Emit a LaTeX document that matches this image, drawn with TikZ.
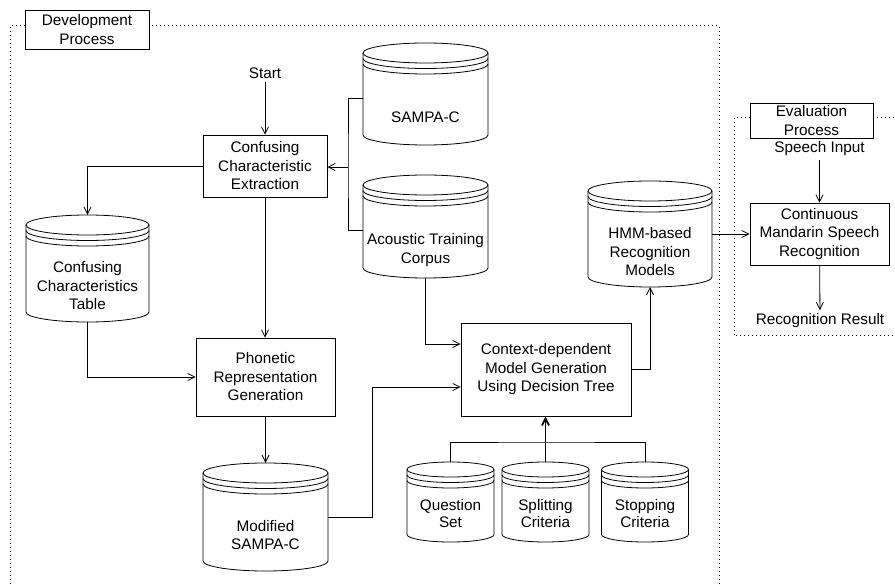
\documentclass[tikz,border=0pt]{standalone}
\usepackage{fontspec}
\setmainfont{Liberation Sans}
\usetikzlibrary{arrows.meta}

% Database drum: #1 name, #2 centre x, #3 top y, #4 width, #5 height,
% #6 cap radius, #7 label position, #8 label
\newcommand{\dbdrum}[8]{%
  \pgfmathsetmacro\dbrx{#4/2}%
  \pgfmathsetmacro\dbL{#2-#4/2}%
  \pgfmathsetmacro\dbR{#2+#4/2}%
  \pgfmathsetmacro\dbA{#3+#6}%
  \pgfmathsetmacro\dbB{#3+#5-#6}%
  \draw (#2,\dbA) ellipse [x radius=\dbrx pt, y radius=#6pt];
  \draw (\dbL,\dbA+5.5) arc [start angle=180, end angle=360, x radius=\dbrx pt, y radius=#6pt];
  \draw (\dbL,\dbA+11) arc [start angle=180, end angle=360, x radius=\dbrx pt, y radius=#6pt];
  \draw (\dbL,\dbA) -- (\dbL,\dbB)
        arc [start angle=180, end angle=360, x radius=\dbrx pt, y radius=#6pt]
        -- (\dbR,\dbA);
  \node[inner sep=0pt, outer sep=0pt, minimum width=#4pt, minimum height=#5pt]
        (#1) at (#2,#3+#5/2) {};
  \node at (#7) {#8};
}

\begin{document}
\begin{tikzpicture}[x=1pt, y=-1pt, line width=0.8pt,
  every node/.style={font=\fontsize{15.3}{18.5}\selectfont, align=center},
  procbox/.style={draw, inner sep=0pt},
  tagbox/.style={draw, fill=white, inner sep=0pt},
  arr/.style={-{Straight Barb[length=7pt,width=7pt]}},
  frame/.style={line width=1pt, dash pattern=on 1pt off 3pt}]

\useasboundingbox (0,0) rectangle (895,585);
\clip (0,0) rectangle (895,585);

% process frames
\draw[frame] (10,600) -- (10,26) -- (719,26) -- (719,600);
\draw[frame] (910,118) -- (734,118) -- (734,336) -- (910,336);
\node[tagbox, minimum width=124pt, minimum height=39pt] (devtag) at (87,29.5) {Development\\Process};
\node[tagbox, minimum width=123pt, minimum height=35pt] (evaltag) at (811.5,120.5) {Evaluation\\Process};

% process steps
\node (start) at (265,73) {Start};
\node[procbox, minimum width=124pt, minimum height=62pt] (conf) at (265,166) {Confusing\\Characteristic\\Extraction};
\node[procbox, minimum width=139pt, minimum height=78pt] (phon) at (265.5,377) {Phonetic\\Representation\\Generation};
\node[procbox, minimum width=170pt, minimum height=93pt] (ctx) at (546,369.5) {Context-dependent\\Model Generation\\Using Decision Tree};
\node[procbox, minimum width=139pt, minimum height=62pt] (cont) at (819.5,234) {Continuous\\Mandarin Speech\\Recognition};
\node (speech) at (819.5,149) {Speech Input};
\node (result) at (820,321) {Recognition Result};

% data stores
\dbdrum{sampa}{425.5}{43}{125}{102}{10}{425.5,117}{SAMPA-C}
\dbdrum{acou}{425.5}{175}{125}{103}{10}{425.5,250}{Acoustic Training\\Corpus}
\dbdrum{hmm}{650}{181}{124}{106}{10}{650,252}{HMM-based\\Recognition\\Models}
\dbdrum{cctab}{87.5}{215}{123}{107}{10}{87.5,286}{Confusing\\Characteristics\\Table}
\dbdrum{modsampa}{265.5}{463}{125}{108}{10}{265.5,535}{Modified\\SAMPA-C}
\dbdrum{qset}{450.5}{462}{87}{80}{7.5}{450.5,514}{Question\\[-1.5pt]Set}
\dbdrum{split}{545.5}{462}{87}{80}{7.5}{545.5,514}{Splitting\\[-1.5pt]Criteria}
\dbdrum{stopc}{645}{462}{87}{80}{7.5}{645,514}{Stopping\\[-1.5pt]Criteria}

% connectors
\coordinate (brk) at (348,167);
\coordinate (bar) at (545.5,442);
\draw[arr] (start) -- (conf);
\draw ([yshift=-4pt]sampa.west) -| (brk) |- ([yshift=-3.5pt]acou.west);
\draw[arr] (brk) -- (brk -| conf.east);
\draw[arr] (conf.west) -| (cctab.north);
\draw[arr] (conf.south) -- (conf.south |- phon.north);
\draw[arr] (cctab.south) |- (phon.west);
\draw[arr] (phon.south) -- (phon.south |- modsampa.north);
\draw[arr] (modsampa.east) -- ++(44,0) |- ([yshift=-17.5pt]ctx.west);
\draw[arr] (acou.south) |- ([yshift=25.5pt]ctx.west);
\draw[arr] (ctx.east) -| (hmm.south);
\draw[arr] (hmm.east) -- (cont.west);
\draw[arr] (speech) -- (cont);
\draw[arr] (cont) -- (result);
\draw (qset.north) |- (bar) -| (stopc.north);
\draw[arr, line width=1.8pt] (split.north) -- (split.north |- ctx.south);
\end{tikzpicture}
\end{document}
